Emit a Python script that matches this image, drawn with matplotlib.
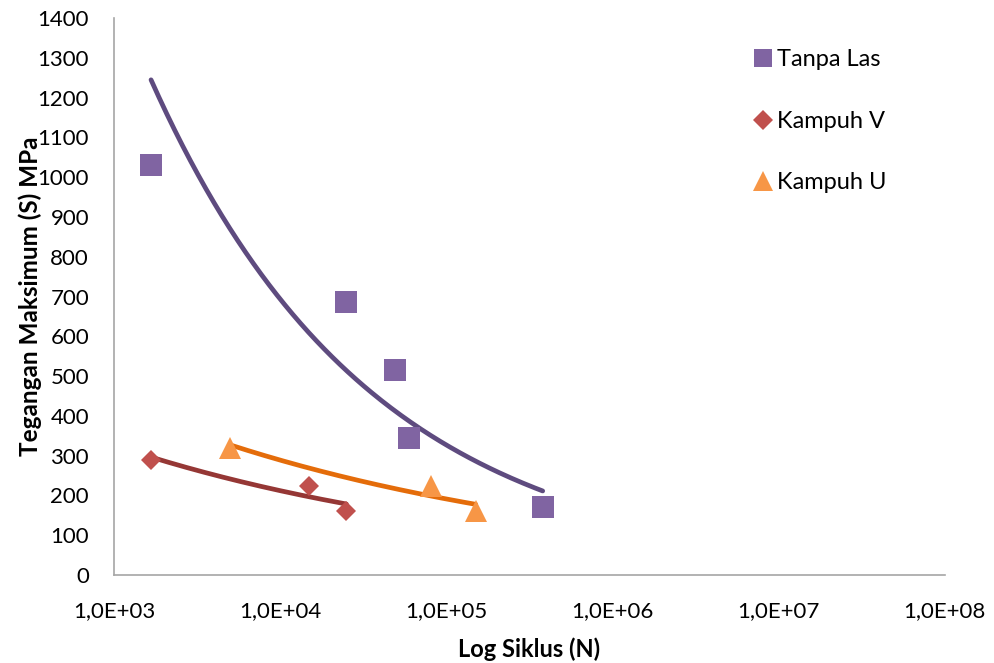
import numpy as np
import matplotlib.pyplot as plt
from matplotlib.ticker import FixedLocator, FixedFormatter

plt.rcParams['font.family'] = ['Lato', 'DejaVu Sans']

# Data (siklus N, tegangan S MPa)
n_tanpa = np.array([1.67e3, 2.5e4, 4.9e4, 6.0e4, 3.8e5])
s_tanpa = np.array([1030, 687, 515, 344, 172])

n_v = np.array([1.67e3, 1.5e4, 2.5e4])
s_v = np.array([289, 225, 160])

n_u = np.array([5.0e3, 8.1e4, 1.5e5])
s_u = np.array([320, 224, 161])

x_ticks = [1e3, 1e4, 1e5, 1e6, 1e7, 1e8]
x_labels = ['1,0E+03', '1,0E+04', '1,0E+05', '1,0E+06', '1,0E+07', '1,0E+08']


def power_trend(n, s):
    # trendline power seperti Excel: regresi ln-ln
    b, ln_a = np.polyfit(np.log(n), np.log(s), 1)
    xx = np.logspace(np.log10(n.min()), np.log10(n.max()), 200)
    return xx, np.exp(ln_a) * xx**b


fig = plt.figure(figsize=(9.95, 6.63), dpi=100)
ax = fig.add_axes([0.1146, 0.1327, 0.835, 0.840])

series = [
    (n_tanpa, s_tanpa, 's', '#8064A2', '#5E4B7F', 16.5, 12.5, 'Tanpa Las'),
    (n_v, s_v, 'D', '#C0504D', '#953735', 10.5, 10.5, 'Kampuh V'),
    (n_u, s_u, '^', '#F79646', '#E46C0A', 15.5, 14, 'Kampuh U'),
]

for n, s, m, c, lc, ms, lms, lab in series:
    xx, yy = power_trend(n, s)
    ax.plot(xx, yy, color=lc, lw=3.4, solid_capstyle='round', zorder=2)
    ax.plot(n, s, linestyle='none', marker=m, markersize=ms, color=c,
            markeredgewidth=0, label=lab, zorder=3)

ax.set_xscale('log')
ax.set_xlim(1e3, 1e8)
ax.set_ylim(0, 1400)
ax.xaxis.set_major_locator(FixedLocator(x_ticks))
ax.xaxis.set_major_formatter(FixedFormatter(x_labels))
ax.xaxis.set_minor_locator(FixedLocator([]))
ax.set_yticks(np.arange(0, 1401, 100))

for sp in ['top', 'right']:
    ax.spines[sp].set_visible(False)
for sp in ['left', 'bottom']:
    ax.spines[sp].set_color('#A6A6A6')
    ax.spines[sp].set_linewidth(1.2)

ax.tick_params(axis='both', length=0, labelsize=16, colors='#000000')
ax.tick_params(axis='x', pad=19)
ax.tick_params(axis='y', pad=18)

ax.set_xlabel('Log Siklus (N)', fontsize=17, fontweight='bold', va='top')
ax.set_ylabel('Tegangan Maksimum (S) MPa', fontsize=17.5, fontweight='bold')
ax.xaxis.set_label_coords(0.5, -0.112)
ax.yaxis.set_label_coords(-0.087, 0.5)

leg = ax.legend(loc='upper left', bbox_to_anchor=(0.755, 0.961), frameon=False,
                fontsize=17, handletextpad=0.1, labelspacing=1.72,
                handlelength=1.0, borderaxespad=0)
for h, (_, _, _, _, _, _, lms, _) in zip(leg.legend_handles, series):
    h.set_markersize(lms)

fig.savefig('out.png', dpi=100)
